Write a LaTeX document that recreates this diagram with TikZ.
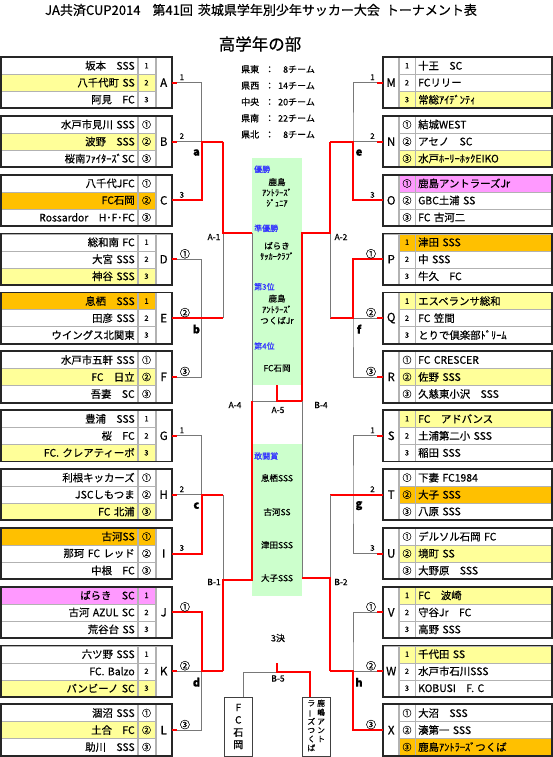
\documentclass[tikz,border=0pt]{standalone}
\usepackage{fontspec}
\setmainfont{Noto Sans CJK JP}[FakeBold=0.5]
\definecolor{rowyellow}{RGB}{255,255,153}
\definecolor{roworange}{RGB}{255,192,0}
\definecolor{rowpink}{RGB}{255,153,255}
\definecolor{prizegreen}{RGB}{204,255,204}
\definecolor{prizeblue}{RGB}{51,51,255}
\definecolor{winred}{RGB}{255,0,0}
\definecolor{wiregray}{RGB}{120,120,120}

\begin{document}
\begin{tikzpicture}[x=1pt, y=-1pt,
    cell/.style={draw=black!30, line width=0.4pt, inner sep=0pt, minimum height=17pt},
    namecell/.style={cell, minimum width=136.3pt, text width=131pt, font=\fontsize{10.4}{12}\selectfont},
    numcell/.style={cell, minimum width=17pt},
    lettercell/.style={cell, minimum width=16pt, minimum height=51pt, font=\fontsize{11.5}{13}\selectfont},
    teamframe/.style={draw=black!85, line width=1.8pt},
    wire/.style={draw=wiregray, line width=0.9pt},
    win/.style={draw=winred, line width=2pt},
    ranktag/.style={inner sep=0pt},
    grouptag/.style={inner sep=0pt, font=\fontsize{11}{12}\selectfont\bfseries},
    roundtag/.style={inner sep=0pt, font=\fontsize{8.5}{10}\selectfont},
    prize/.style={fill=prizegreen, inner sep=0pt, minimum width=49.5pt},
    placetag/.style={text=prizeblue, inner sep=0pt, anchor=west, font=\fontsize{8}{9}\selectfont},
    prizetext/.style={inner sep=0pt, align=center, font=\fontsize{8.5}{10.5}\selectfont},
    loserbox/.style={draw=black!75, line width=0.8pt, minimum width=28pt, minimum height=59pt, inner sep=0pt, align=center}
]
\useasboundingbox (0,0) rectangle (553,757);

% titles
\node[font=\fontsize{13}{15}\selectfont] (title) at (261,10) {JA共済CUP2014\hspace{12pt}第41回\hspace{5pt}茨城県学年別少年サッカー大会\hspace{6pt}トーナメント表};
\node[font=\fontsize{16.5}{18}\selectfont] (subtitle) at (260,44) {高学年の部};
\node[inner sep=0pt, font=\fontsize{9}{16.3}\selectfont] (counts) at (278,102)
  {\begin{tabular}{@{}l@{\hspace{6pt}：\hspace{4pt}}r@{}}県東&8チーム\\ 県西&14チーム\\ 中央&20チーム\\ 県南&22チーム\\ 県北&8チーム\end{tabular}};

% prize columns
\node[prize, minimum height=227pt] (champ) at (277,271.5) {};
\node[prize, minimum height=152pt] (fight) at (277,520) {};
\node[placetag] (gold-tag) at (254,169.3) {優勝};
\node[prizetext] (gold) at (277,192.4) {鹿島\\ｱﾝﾄﾗｰｽﾞ\\ｼﾞｭﾆｱ};
\node[placetag] (silver-tag) at (254,228.3) {準優勝};
\node[prizetext] (silver) at (277,251) {ぱらき\\ｻｯｶｰｸﾗﾌﾞ};
\node[placetag] (bronze-tag) at (254,286.7) {第3位};
\node[prizetext, font=\fontsize{8.5}{11}\selectfont] (bronze) at (277,309.5) {鹿島\\ｱﾝﾄﾗｰｽﾞ\\つくばJr};
\node[placetag] (fourth-tag) at (254,346) {第4位};
\node[prizetext] (fourth) at (277,368.3) {FC石岡};
\node[placetag] (fight-tag) at (254,456) {敢闘賞};
\node[prizetext] (fight-1) at (277,478) {息栖SSS};
\node[prizetext] (fight-2) at (277,512) {古河SS};
\node[prizetext] (fight-3) at (277,545) {津田SSS};
\node[prizetext] (fight-4) at (277,578) {大子SSS};

% left groups
\foreach \pos/\bx/\na/\nb/\nc/\fa/\fb/\fc/\mk in {
  0/A/坂本　SSS/八千代町 SS/阿見　FC/white/rowyellow/white/0,
  1/B/水戸市見川 SSS/波野　SSS/桜南ﾌｧｲﾀｰｽﾞSC/white/rowyellow/white/1,
  2/C/八千代JFC/FC石岡/Rossardor　H･F･FC/white/roworange/white/1,
  3/D/総和南 FC/大宮 SSS/神谷 SSS/white/white/rowyellow/0,
  4/E/息栖　SSS/田彦 SSS/ウイングス北関東/roworange/white/white/0,
  5/F/水戸市五軒 SSS/FC　日立/吾妻　SC/white/rowyellow/white/1,
  6/G/豊浦　SSS/桜　FC/FC. クレアティーボ/white/white/rowyellow/0,
  7/H/利根キッカーズ/JSCしもつま/FC 北浦/white/white/rowyellow/1,
  8/I/古河SS/那珂 FC レッド/中根　FC/roworange/white/white/1,
  9/J/ぱらき　SC/古河 AZUL SC/荒谷台 SS/rowpink/white/white/0,
  10/K/六ツ野 SSS/FC. Balzo/バンビーノ SC/white/white/rowyellow/0,
  11/L/涸沼 SSS/土合　FC/助川　SSS/white/rowyellow/white/1}{
  \pgfmathsetmacro{\yy}{82.7+58.85*\pos}
  \ifnum\mk=0 \def\ma{\fontsize{7.5}{8}\selectfont 1}\def\mb{\fontsize{7.5}{8}\selectfont 2}\def\mc{\fontsize{7.5}{8}\selectfont 3}%
  \else \def\ma{\fontsize{9}{10}\selectfont ①}\def\mb{\fontsize{9}{10}\selectfont ②}\def\mc{\fontsize{9}{10}\selectfont ③}\fi
  \node[namecell, fill=\fa, align=right] (\bx1) at (69.2,\yy-17) {\na};
  \node[namecell, fill=\fb, align=right] (\bx2) at (69.2,\yy) {\nb};
  \node[namecell, fill=\fc, align=right] (\bx3) at (69.2,\yy+17) {\nc};
  \node[numcell, fill=\fa] (\bx1n) at (146.5,\yy-17) {\ma};
  \node[numcell, fill=\fb] (\bx2n) at (146.5,\yy) {\mb};
  \node[numcell, fill=\fc] (\bx3n) at (146.5,\yy+17) {\mc};
  \node[lettercell] (\bx) at (163.7,\yy) {\bx};
  \draw[teamframe] (\bx1.north west) rectangle (\bx.south east);
}

% right groups
\foreach \pos/\bx/\na/\nb/\nc/\fa/\fb/\fc/\mk in {
  0/M/十王　SC/FCリリー/常総ｱｲﾃﾞﾝﾃｨ/white/white/rowyellow/0,
  1/N/結城WEST/アセノ　SC/水戸ﾎｰﾘｰﾎｯｸEIKO/white/white/rowyellow/1,
  2/O/鹿島アントラーズJr/GBC土浦 SS/FC 古河二/rowpink/white/white/1,
  3/P/津田 SSS/中 SSS/牛久　FC/roworange/white/white/0,
  4/Q/エスペランサ総和/FC 笠間/とりで倶楽部ﾄﾞﾘｰﾑ/rowyellow/white/white/0,
  5/R/FC CRESCER/佐野 SSS/久慈東小沢　SSS/white/rowyellow/white/1,
  6/S/FC　アドバンス/土浦第二小 SSS/稲田 SSS/rowyellow/white/white/0,
  7/T/下妻 FC1984/大子 SSS/八原 SSS/white/roworange/white/1,
  8/U/デルソル石岡 FC/境町 SS/大野原　SSS/white/rowyellow/white/1,
  9/V/FC　波崎/守谷Jr　FC/高野 SSS/rowyellow/white/white/0,
  10/W/千代田 SS/水戸市石川SSS/KOBUSI　F. C/rowyellow/white/white/0,
  11/X/大沼　SSS/湊第一 SSS/鹿島ｱﾝﾄﾗｰｽﾞつくば/white/white/roworange/1}{
  \pgfmathsetmacro{\yy}{82.7+58.85*\pos}
  \ifnum\mk=0 \def\ma{\fontsize{7.5}{8}\selectfont 1}\def\mb{\fontsize{7.5}{8}\selectfont 2}\def\mc{\fontsize{7.5}{8}\selectfont 3}%
  \else \def\ma{\fontsize{9}{10}\selectfont ①}\def\mb{\fontsize{9}{10}\selectfont ②}\def\mc{\fontsize{9}{10}\selectfont ③}\fi
  \node[namecell, fill=\fa, align=left] (\bx1) at (483.7,\yy-17) {\na};
  \node[namecell, fill=\fb, align=left] (\bx2) at (483.7,\yy) {\nb};
  \node[namecell, fill=\fc, align=left] (\bx3) at (483.7,\yy+17) {\nc};
  \node[numcell, fill=\fa] (\bx1n) at (407,\yy-17) {\ma};
  \node[numcell, fill=\fb] (\bx2n) at (407,\yy) {\mb};
  \node[numcell, fill=\fc] (\bx3n) at (407,\yy+17) {\mc};
  \node[lettercell] (\bx) at (391.2,\yy) {\bx};
  \draw[teamframe] (\bx.north west) rectangle (\bx3.south east);
}

% first round, left
\foreach \g/\ta/\tb/\tc/\w/\mk in {a/A/B/C/C/0, b/D/E/F/E/1, c/G/H/I/I/0, d/J/K/L/J/1}{
  \ifnum\mk=0 \def\ra{\fontsize{8}{9}\selectfont 1}\def\rb{\fontsize{8}{9}\selectfont 2}\def\rc{\fontsize{8}{9}\selectfont 3}\def\rx{10}%
  \else \def\ra{\fontsize{10}{11}\selectfont ①}\def\rb{\fontsize{10}{11}\selectfont ②}\def\rc{\fontsize{10}{11}\selectfont ③}\def\rx{13}\fi
  \path (\tb.east) ++(30,0) coordinate (\g) ++(21.5,0) coordinate (\g-out);
  \draw[wire] (\ta.east) -| (\g) |- (\tc.east);
  \draw[wire] (\tb.east) -- (\g-out);
  \draw[win] (\w.east) -| (\g) -- (\g-out);
  \foreach \tm in {\ta,\tb,\tc} \draw[win] (\tm.east) -- ++(5,0);
  \node[ranktag] (\ta-rk) at ([xshift=\rx pt,yshift=5.5pt]\ta.east) {\ra};
  \node[ranktag] (\tb-rk) at ([xshift=\rx pt,yshift=5.5pt]\tb.east) {\rb};
  \node[ranktag] (\tc-rk) at ([xshift=\rx pt,yshift=5.5pt]\tc.east) {\rc};
  \node[grouptag] (\g-tag) at ([xshift=-5.5pt,yshift=-11pt]\g) {\g};
}

% first round, right
\foreach \g/\ta/\tb/\tc/\w/\mk in {e/M/N/O/O/0, f/P/Q/R/P/1, g/S/T/U/T/0, h/V/W/X/X/1}{
  \ifnum\mk=0 \def\ra{\fontsize{8}{9}\selectfont 1}\def\rb{\fontsize{8}{9}\selectfont 2}\def\rc{\fontsize{8}{9}\selectfont 3}\def\rx{-10.5}%
  \else \def\ra{\fontsize{10}{11}\selectfont ①}\def\rb{\fontsize{10}{11}\selectfont ②}\def\rc{\fontsize{10}{11}\selectfont ③}\def\rx{-12}\fi
  \path (\tb.west) ++(-30,0) coordinate (\g) ++(-23,0) coordinate (\g-out);
  \draw[wire] (\ta.west) -| (\g) |- (\tc.west);
  \draw[wire] (\tb.west) -- (\g-out);
  \draw[win] (\w.west) -| (\g) -- (\g-out);
  \foreach \tm in {\ta,\tb,\tc} \draw[win] (\tm.west) -- ++(-6,0);
  \node[ranktag] (\ta-rk) at ([xshift=\rx pt,yshift=5.5pt]\ta.west) {\ra};
  \node[ranktag] (\tb-rk) at ([xshift=\rx pt,yshift=5.5pt]\tb.west) {\rb};
  \node[ranktag] (\tc-rk) at ([xshift=\rx pt,yshift=5.5pt]\tc.west) {\rc};
  \node[grouptag] (\g-tag) at ([xshift=6pt,yshift=-11pt]\g) {\g};
}

% later rounds
\coordinate (A-1) at (a-out |- 0,233);
\coordinate (B-1) at (c-out |- 0,580);
\coordinate (A-2) at (e-out |- 0,233);
\coordinate (B-2) at (g-out |- 0,578);
\coordinate (A-4) at (252,401);
\coordinate (B-4) at (302,401);
\coordinate (A-5) at (277,401);

\draw[wire] (a-out) -- (b-out);
\draw[wire] (c-out) -- (d-out);
\draw[wire] (e-out) -- (f-out);
\draw[wire] (g-out) -- (h-out);
\draw[wire] (A-1) -- (A-1 -| A-4) -- (A-4);
\draw[wire] (B-2) -- (B-2 -| B-4) -- (B-4);
\draw[wire] (A-4) -- (B-4);
\draw[win] (a-out) -- (A-1) -- (A-1 -| A-4);
\draw[win] (d-out) -- (B-1) -- (B-1 -| A-4) -- (A-4);
\draw[win] (e-out) -- (A-2) -- (A-2 -| B-4) -- (B-4);
\draw[win] (h-out) -- (B-2) -- (B-2 -| B-4);
\draw[win] (B-4) -- (A-5) -- (champ.south);

\node[roundtag] (A-1-tag) at (214,237) {A-1};
\node[roundtag] (A-2-tag) at (341,237) {A-2};
\node[roundtag] (A-4-tag) at (235,405) {A-4};
\node[roundtag] (B-4-tag) at (321,405) {B-4};
\node[roundtag] (A-5-tag) at (278,410) {A-5};
\node[roundtag] (B-1-tag) at (214,582) {B-1};
\node[roundtag] (B-2-tag) at (341,582) {B-2};

% third place
\node[font=\fontsize{9}{10}\selectfont] (third-tag) at (278,638) {3決};
\node[loserbox, font=\fontsize{10}{12.4}\selectfont] (third-l) at (238.3,726.5) {F\\C\\石\\岡};
\node[loserbox, font=\fontsize{7.8}{8.6}\selectfont] (third-r) at (316.2,726.5)
  {\begin{tabular}{@{}c@{\hspace{2pt}}c@{}}ラ&鹿\\ \rotatebox[origin=c]{90}{ー}&嶋\\ ズ&ア\\ つ&ン\\ く&ト\\ ば&\end{tabular}};
\coordinate (B-5) at (277,672);
\coordinate (B-5-top) at (277,663);
\draw[wire] ([xshift=5pt]third-l.north) |- (B-5);
\draw[win] (B-5-top) -- (B-5) -| ([xshift=-6pt]third-r.north);
\node[roundtag] (B-5-tag) at (278,678.5) {B-5};
\end{tikzpicture}
\end{document}
